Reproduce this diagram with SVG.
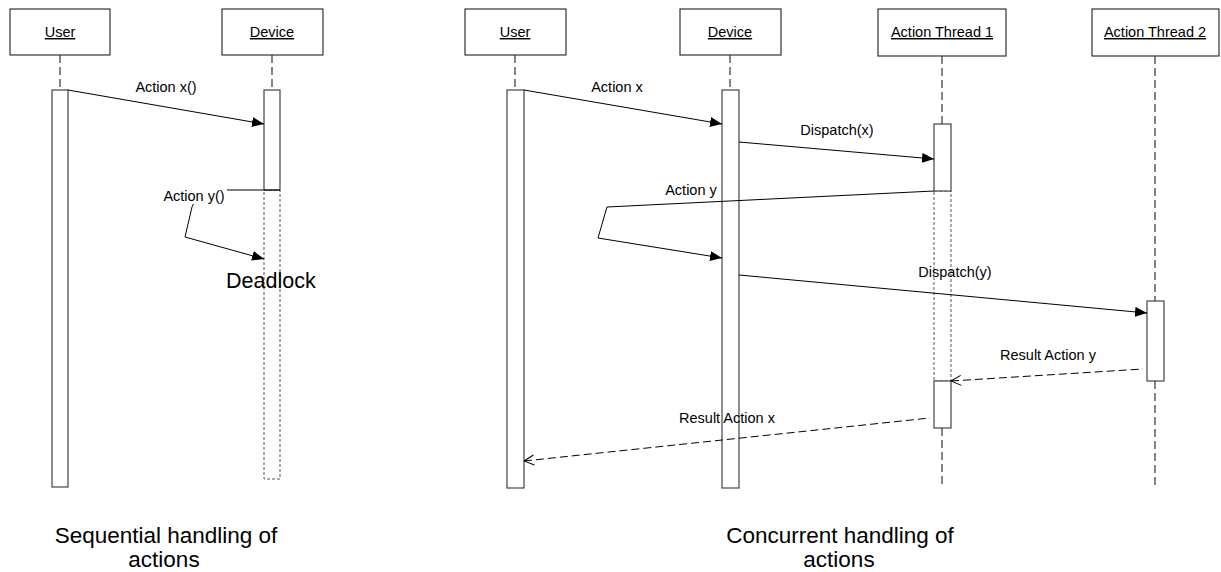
<svg xmlns="http://www.w3.org/2000/svg" width="1221" height="572" viewBox="0 0 1221 572">
  <defs>
    <marker id="solid" viewBox="0 0 12 10" refX="12" refY="5" markerWidth="12" markerHeight="10" markerUnits="userSpaceOnUse" orient="auto">
      <path d="M0,0 L12,5 L0,10 Z" fill="#000"/>
    </marker>
    <marker id="open" viewBox="0 0 12 12" refX="1" refY="6" markerWidth="12" markerHeight="12" markerUnits="userSpaceOnUse" orient="auto">
      <path d="M11,1 L1,6 L11,11" fill="none" stroke="#000" stroke-width="1"/>
    </marker>
  </defs>
  <style>
    text { font-family: "Liberation Sans", Arial, sans-serif; fill: #000; }
    .head { fill: #fff; stroke: #333; stroke-width: 1.2; }
    .name { font-size: 14.5px; text-anchor: middle; text-decoration: underline; }
    .life { stroke: #333; stroke-width: 1.2; stroke-dasharray: 8 4; fill: none; }
    .act { fill: #fff; stroke: #444; stroke-width: 1.2; }
    .ghost { fill: none; stroke: #555; stroke-width: 1; stroke-dasharray: 3 2; }
    .msg { stroke: #000; stroke-width: 1; fill: none; marker-end: url(#solid); }
    .ret { stroke: #000; stroke-width: 1; fill: none; stroke-dasharray: 8 4; marker-start: url(#open); }
    .lbl { font-size: 14.5px; text-anchor: middle; }
    .caption { font-size: 22.5px; text-anchor: middle; }
  </style>

  <rect width="1221" height="572" fill="#fff"/>

  <!-- Sequential handling: lifelines -->
  <g id="seq-user">
    <rect class="head" x="10" y="9" width="100" height="46"/>
    <text class="name" x="60" y="37">User</text>
    <line class="life" x1="60" y1="55" x2="60" y2="90"/>
    <rect class="act" x="52" y="90" width="16" height="397"/>
  </g>
  <g id="seq-device">
    <rect class="head" x="222" y="9" width="101" height="46"/>
    <text class="name" x="272" y="37">Device</text>
    <line class="life" x1="272" y1="55" x2="272" y2="90"/>
    <rect class="ghost" x="264" y="190" width="16" height="289"/>
    <rect class="act" x="264" y="90" width="16" height="100"/>
  </g>

  <!-- Concurrent handling: lifelines -->
  <g id="con-user">
    <rect class="head" x="465" y="9" width="101" height="46"/>
    <text class="name" x="515" y="37">User</text>
    <line class="life" x1="515" y1="55" x2="515" y2="90"/>
    <rect class="act" x="507" y="90" width="17" height="398"/>
  </g>
  <g id="con-device">
    <rect class="head" x="680" y="9" width="101" height="46"/>
    <text class="name" x="730" y="37">Device</text>
    <line class="life" x1="730" y1="55" x2="730" y2="90"/>
    <rect class="act" x="722" y="90" width="17" height="398"/>
  </g>
  <g id="con-thread1">
    <rect class="head" x="878" y="9" width="128" height="47"/>
    <text class="name" x="942" y="37">Action Thread 1</text>
    <line class="life" x1="942" y1="56" x2="942" y2="124"/>
    <rect class="ghost" x="934" y="191" width="17" height="190"/>
    <rect class="act" x="934" y="124" width="17" height="67"/>
    <rect class="act" x="934" y="381" width="17" height="47"/>
    <line class="life" x1="942" y1="428" x2="942" y2="488"/>
  </g>
  <g id="con-thread2">
    <rect class="head" x="1092" y="9" width="127" height="47"/>
    <text class="name" x="1155" y="37">Action Thread 2</text>
    <line class="life" x1="1155" y1="56" x2="1155" y2="301"/>
    <rect class="act" x="1147" y="301" width="17" height="80"/>
    <line class="life" x1="1155" y1="381" x2="1155" y2="488"/>
  </g>

  <!-- Messages -->
  <g id="connectors">
    <path class="msg" d="M68,90 L264,124"/>
    <text class="lbl" x="166" y="92">Action x()</text>

    <path class="msg" d="M280,190 L200,190 L192,207 L185,237 L264,259"/>
    <rect x="160" y="184" width="67" height="20" fill="#fff"/>
    <text class="lbl" x="194" y="201">Action y()</text>
    <text x="226" y="288" style="font-size:21.5px">Deadlock</text>

    <path class="msg" d="M524,90 L722,124"/>
    <text class="lbl" x="617" y="92">Action x</text>

    <path class="msg" d="M739,142 L934,159"/>
    <text class="lbl" x="837" y="135">Dispatch(x)</text>

    <path class="msg" d="M934,191 L607,207 L598,238 L722,258"/>
    <text class="lbl" x="691" y="195">Action y</text>

    <path class="msg" d="M739,275 L1147,313"/>
    <text class="lbl" x="955" y="277">Dispatch(y)</text>

    <path class="ret" d="M951,381 L1143,369"/>
    <text class="lbl" x="1048" y="360">Result Action y</text>

    <path class="ret" d="M524,461 L930,418"/>
    <text class="lbl" x="727" y="423">Result Action x</text>
  </g>

  <!-- Captions -->
  <g id="captions">
    <text class="caption" x="166" y="543">Sequential handling of</text>
    <text class="caption" x="164" y="567">actions</text>
    <text class="caption" x="840" y="543">Concurrent handling of</text>
    <text class="caption" x="839" y="567">actions</text>
  </g>
</svg>
